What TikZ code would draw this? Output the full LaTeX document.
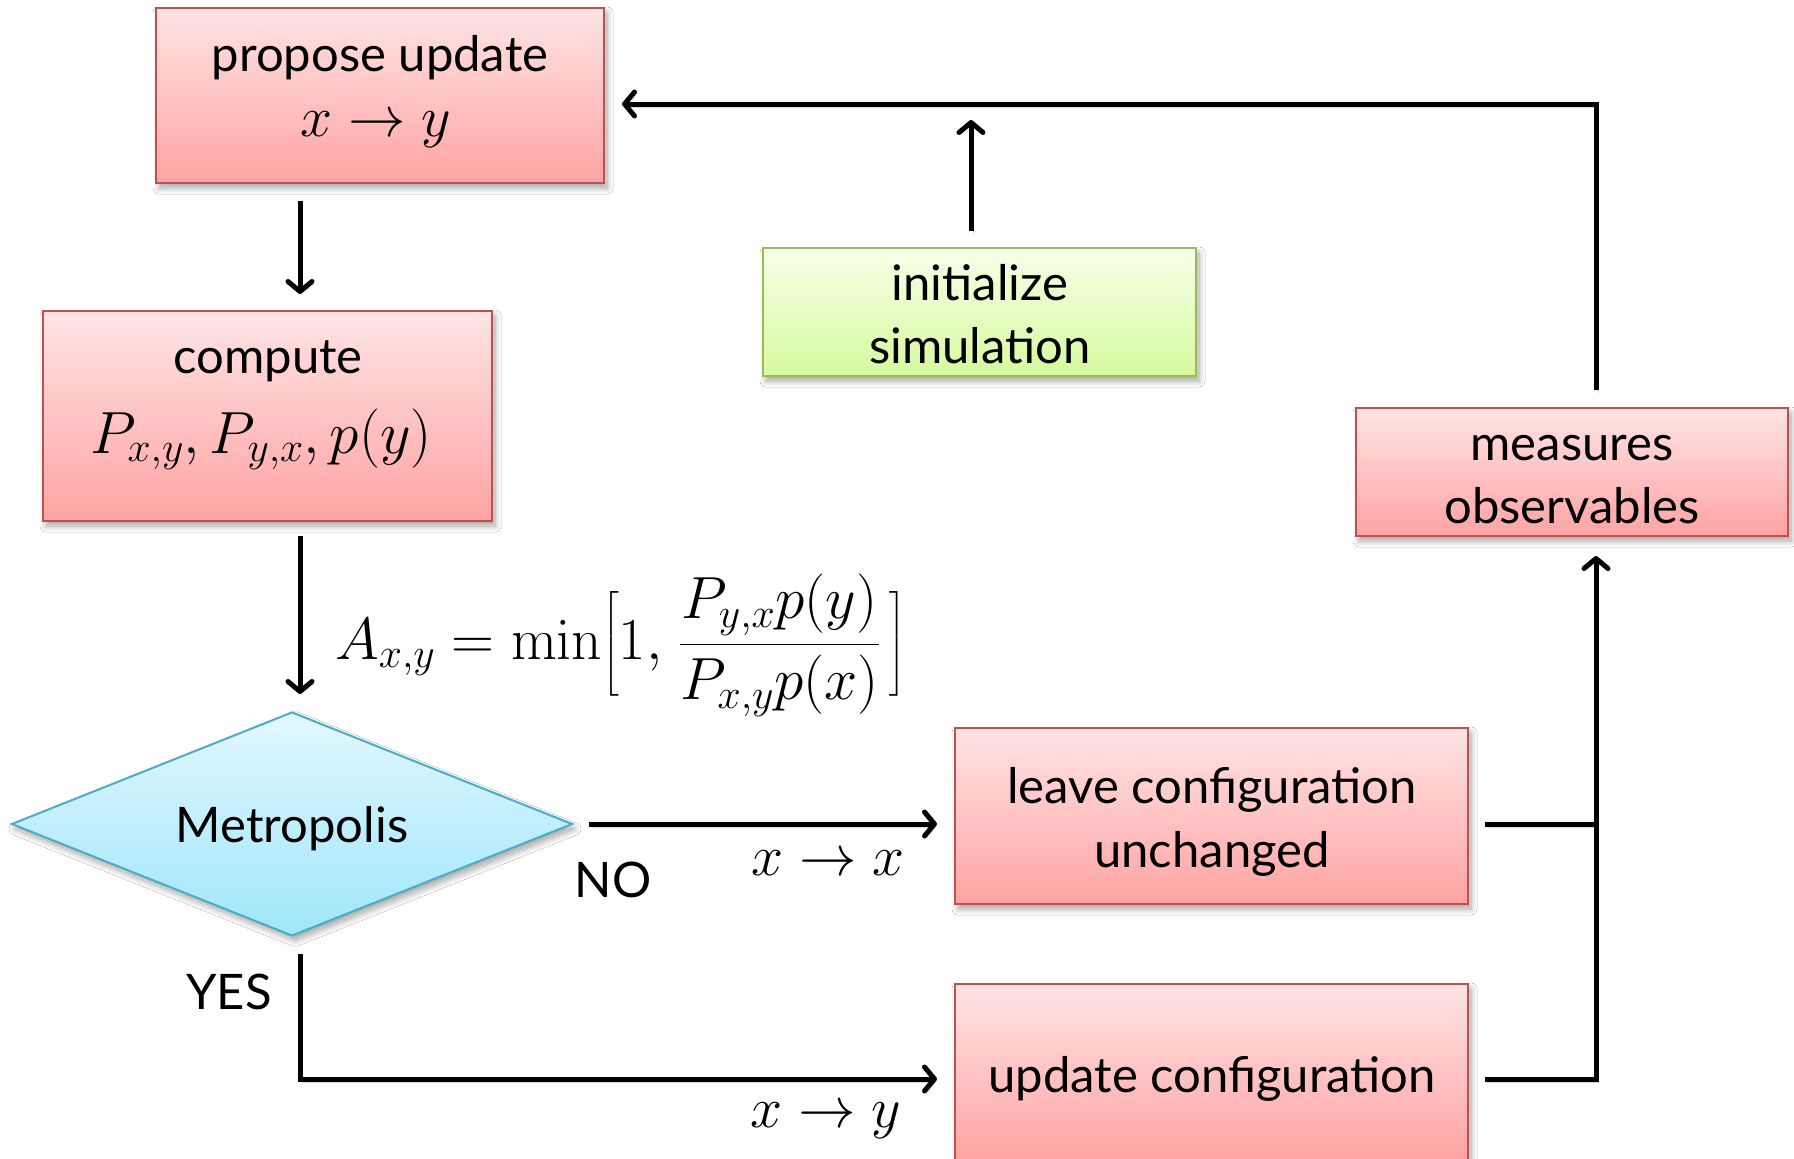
\RequirePackage{fix-cm}
\documentclass[tikz,border=0pt]{standalone}
\usepackage[no-math]{fontspec}
\setmainfont{Lato}
\usepackage{amsmath}
\usetikzlibrary{arrows.meta,shapes.geometric,shadows.blur}

\definecolor{redtop}{RGB}{255,228,228}
\definecolor{redbot}{RGB}{255,163,163}
\definecolor{redline}{RGB}{192,80,77}
\definecolor{greentop}{RGB}{246,255,232}
\definecolor{greenbot}{RGB}{214,250,158}
\definecolor{greenline}{RGB}{155,187,89}
\definecolor{bluetop}{RGB}{226,247,255}
\definecolor{bluebot}{RGB}{160,230,250}
\definecolor{blueline}{RGB}{75,172,198}

\newcommand{\flowfont}{\fontsize{49}{64}\selectfont}
\newcommand{\mathsize}{\fontsize{57.5}{64}\selectfont}
\newcommand{\bigmath}{\fontsize{59.5}{64}\selectfont}

\tikzset{
  softshadow/.style={blur shadow={shadow xshift=3pt, shadow yshift=-5pt,
      shadow blur radius=6pt, shadow blur steps=10, shadow opacity=35}},
  redbox/.style={rectangle, draw=redline, line width=2pt,
      top color=redtop, bottom color=redbot, inner sep=0pt, softshadow},
  greenbox/.style={redbox, draw=greenline, top color=greentop, bottom color=greenbot},
  decision/.style={diamond, aspect=2.5, draw=blueline, line width=2pt,
      top color=bluetop, bottom color=bluebot, inner sep=0pt,
      minimum width=561pt, minimum height=224pt, softshadow},
  wire/.style={line width=5pt, black,
      preaction={draw=black, opacity=0.15, transform canvas={shift={(2pt,-3pt)}}}},
  arr/.style={wire, -{Straight Barb[length=10pt,width=24pt,round]}},
  txt/.style={font=\flowfont, inner sep=0pt, anchor=base},
  mtxt/.style={font=\mathsize, inner sep=0pt, anchor=base},
  bigtxt/.style={font=\bigmath, inner sep=0pt, anchor=base}
}

\begin{document}
\begin{tikzpicture}[x=1pt,y=-1pt]
\useasboundingbox[fill=white] (0,0) rectangle (1794,1159);

% process boxes
\node[redbox, minimum width=448pt, minimum height=175pt] (propose) at (380,95.5) {};
\node[redbox, minimum width=449pt, minimum height=210pt] (compute) at (267.5,416) {};
\node[greenbox, minimum width=433pt, minimum height=128pt] (init) at (979.5,312) {};
\node[redbox, minimum width=432pt, minimum height=128pt] (meas) at (1572,472) {};
\node[decision] (metro) at (292,824) {};
\node[redbox, minimum width=513pt, minimum height=176pt] (leave) at (1211.5,816) {};
\node[redbox, minimum width=513pt, minimum height=176pt] (upd) at (1211.5,1072) {};

% box texts
\node[txt] (propose-a) at (380,71) {propose update};
\node[mtxt] (propose-b) at (376,136) {$x\to y$};
\node[txt] (compute-a) at (268,373) {compute};
\node[bigtxt] (compute-b) at (261,453) {$P_{x,y},P_{y,x},p(y)$};
\node[txt] (init-a) at (980,300) {initialize};
\node[txt] (init-b) at (980,363) {simulation};
\node[txt] (meas-a) at (1572,460) {measures};
\node[txt] (meas-b) at (1572,523) {observables};
\node[txt] (metro-a) at (292,842) {Metropolis};
\node[txt] (leave-a) at (1212,803) {leave configuration};
\node[txt] (leave-b) at (1212,867) {unchanged};
\node[txt] (upd-a) at (1212,1092) {update configuration};

% routing guides
\coordinate (lx) at (300,0);
\coordinate (rx) at (1596,0);
\coordinate (ix) at (971,0);
\coordinate (topy) at (0,104);
\coordinate (yesy) at (0,1079);

% connectors
\draw[arr, shorten <=17pt, shorten >=16pt] (propose.south -| lx) -- (compute.north -| lx);
\draw[arr, shorten <=14pt, shorten >=17pt] (compute.south -| lx) -- (metro.north -| lx);
\draw[arr, shorten <=15pt, shorten >=17pt] (metro.east) -- (metro.east -| leave.west);
\draw[arr, shorten <=17pt, shorten >=17pt] (metro.south -| lx) -- (lx |- yesy) -- (yesy -| upd.west);
\draw[wire, shorten <=16pt] (leave.east |- metro.east) -- (rx |- metro.east);
\draw[arr, shorten <=16pt, shorten >=19pt] (upd.east |- yesy) -- (rx |- yesy) -- (rx |- meas.south);
\draw[arr, shorten <=17pt, shorten >=17pt] (rx |- meas.north) -- (rx |- topy) -- (topy -| propose.east);
\draw[arr, shorten <=16pt, shorten >=16pt] (init.north -| ix) -- (ix |- topy);

% connector labels
\node[txt] (nolbl) at (613,897) {NO};
\node[txt] (yeslbl) at (229,1009) {YES};
\node[mtxt] (stay) at (828,875) {$x\to x$};
\node[mtxt] (move) at (826,1127) {$x\to y$};
\node[bigtxt, anchor=base west] (accept) at (335,659)
  {$\displaystyle A_{x,y}=\min\Bigl[1,\mkern2mu\frac{P_{y,x}p(y)}{P_{x,y}p(x)}\mkern3mu\Bigr]$};
\end{tikzpicture}
\end{document}
